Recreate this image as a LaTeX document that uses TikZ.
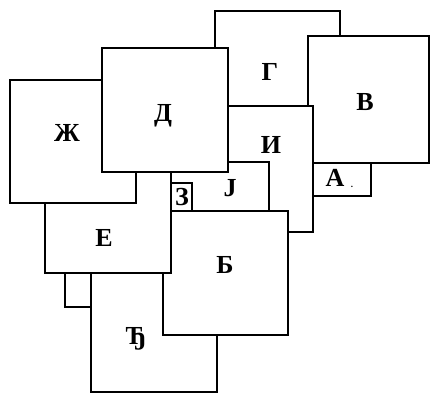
\documentclass[tikz,border=0pt]{standalone}
\usepackage{fontspec}
\setmainfont{Liberation Serif}
\begin{document}
\begin{tikzpicture}[x=1pt,y=-1pt,
  sq/.style={draw=black,fill=white,line width=1.8pt,line join=miter},
  lbl/.style={font=\fontsize{26}{26}\selectfont\bfseries,inner sep=0pt}]
\useasboundingbox (0,0) rectangle (430,393);
% back to front
\path[sq] (65,240) rectangle (120,307);   % small unlabeled
\path[sq] (91,267) rectangle (217,392);   % Ђ
\path[sq] (215,11) rectangle (340,136);   % Г
\path[sq] (308,36) rectangle (429,163);   % В
\path[sq] (313,163) rectangle (371,196);  % А
\path[sq] (187,106) rectangle (313,232);  % И
\path[sq] (165,162) rectangle (269,260);  % Ј
\path[sq] (163,211) rectangle (288,335);  % Б
\path[sq] (171,183) rectangle (192,211);  % З
\path[sq] (45,148) rectangle (171,273);   % Е
\path[sq] (10,80) rectangle (136,203);    % Ж
\path[sq] (102,48) rectangle (228,172);   % Д
% labels
\node[lbl] (lZh) at (67,133) {Ж};
\node[lbl] (lD) at (163,116) {Д};
\node[lbl] (lG) at (270,72) {Г};
\node[lbl] (lV) at (365,102) {В};
\node[lbl] (lI) at (271,145) {И};
\node[lbl] (lJ) at (230,188) {Ј};
\node[lbl] (lZ) at (182,197) {З};
\node[lbl] (lA) at (335,178) {А};
\node[font=\bfseries\small,inner sep=0pt] (lDot) at (352,187) {.};
\node[lbl] (lE) at (104,238) {Е};
\node[lbl] (lB) at (225,265) {Б};
\node[lbl] (lDj) at (136,339) {Ђ};
\end{tikzpicture}
\end{document}
